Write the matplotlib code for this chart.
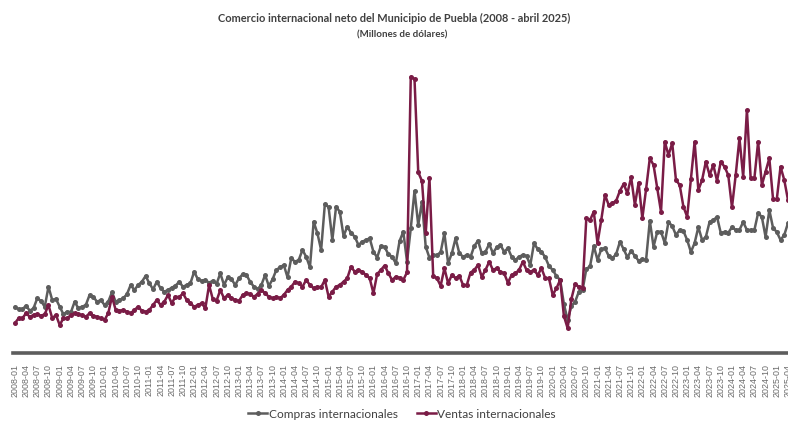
import matplotlib
matplotlib.use("Agg")
import matplotlib.pyplot as plt
from matplotlib.lines import Line2D

# Monthly series, 2008-01 .. 2025-04 (millones de dólares)
start_year = 2008
compras = [
    183, 176, 175, 189, 169, 179, 219, 208, 185, 265, 212, 216,
    185, 155, 165, 163, 205, 179, 185, 192, 232, 225, 205, 212,
    192, 205, 243, 205, 212, 219, 235, 272, 252, 272, 285, 308,
    279, 255, 285, 259, 245, 252, 261, 269, 285, 265, 272, 279,
    325, 295, 289, 292, 281, 289, 276, 319, 272, 303, 295, 272,
    299, 315, 312, 285, 265, 256, 272, 312, 268, 295, 332, 343,
    352, 303, 379, 365, 372, 412, 385, 343, 525, 479, 412, 596,
    583, 452, 585, 565, 468, 505, 481, 465, 432, 445, 452, 459,
    405, 382, 428, 424, 395, 385, 359, 448, 485, 365, 499, 648,
    512, 605, 425, 381, 392, 392, 403, 479, 359, 399, 459, 399,
    385, 392, 384, 428, 449, 399, 405, 436, 399, 423, 432, 405,
    419, 385, 372, 385, 392, 388, 352, 439, 415, 405, 383, 348,
    332, 308, 292, 196, 132, 188, 205, 245, 252, 336, 347, 428,
    372, 415, 419, 388, 379, 396, 445, 415, 383, 409, 388, 369,
    375, 372, 529, 425, 485, 485, 440, 524, 508, 472, 492, 488,
    452, 404, 440, 504, 452, 464, 524, 532, 544, 480, 484, 480,
    504, 492, 492, 524, 492, 492, 492, 560, 544, 464, 572, 500,
    484, 452, 472, 520,
]
ventas = [
    119, 139, 139, 159, 145, 152, 155, 149, 155, 192, 139, 152,
    112, 139, 139, 152, 159, 155, 152, 145, 159, 149, 145, 139,
    132, 159, 225, 172, 168, 172, 165, 159, 172, 185, 169, 165,
    172, 192, 212, 192, 205, 232, 199, 225, 223, 239, 212, 199,
    185, 192, 199, 179, 272, 215, 209, 252, 219, 232, 219, 212,
    208, 232, 239, 236, 225, 236, 252, 239, 225, 219, 225, 219,
    232, 252, 265, 285, 279, 265, 292, 272, 259, 265, 263, 292,
    225, 245, 265, 272, 285, 299, 345, 325, 332, 325, 312, 299,
    239, 316, 332, 350, 319, 292, 305, 301, 292, 323, 1105, 1096,
    723, 688, 479, 701, 309, 299, 269, 339, 279, 312, 299, 309,
    272, 272, 322, 332, 352, 305, 332, 365, 332, 339, 325, 319,
    281, 312, 319, 332, 365, 332, 325, 332, 312, 339, 299, 299,
    232, 259, 292, 148, 99, 216, 276, 265, 262, 539, 532, 565,
    439, 532, 632, 592, 599, 609, 649, 676, 639, 703, 592, 681,
    539, 655, 779, 752, 659, 565, 845, 792, 839, 692, 672, 585,
    545, 695, 845, 652, 692, 765, 712, 752, 689, 765, 745, 712,
    583, 712, 859, 705, 972, 699, 699, 845, 672, 725, 779, 615,
    615, 745, 692, 612,
]
months = list(range(len(compras)))
tick_pos = list(range(0, len(compras), 3))
tick_labels = [f"{start_year + m // 12}-{m % 12 + 1:02d}" for m in tick_pos]

title = "Comercio internacional neto del Municipio de Puebla (2008 - abril 2025)"
subtitle = "(Millones de dólares)"
name_compras = "Compras internacionales"
name_ventas = "Ventas internacionales"

c_gray = "#5d5d5d"
c_red = "#7a1c46"

W, H = 788, 422
fig = plt.figure(figsize=(W / 100, H / 100), dpi=100)
ax = fig.add_axes([13 / W, 1 - 353 / H, (W - 13) / W, (353 - 60) / H])

ax.plot(months, compras, color=c_gray, lw=1.8, marker="o", ms=3.6,
        markeredgewidth=0, clip_on=True, zorder=2)
ax.plot(months, ventas, color=c_red, lw=1.8, marker="o", ms=3.6,
        markeredgewidth=0, clip_on=True, zorder=3)

ax.set_xlim(-0.5, 207)
ax.set_ylim(0, 1172)
for s in ["top", "right", "left"]:
    ax.spines[s].set_visible(False)
ax.spines["bottom"].set_color(c_gray)
ax.spines["bottom"].set_linewidth(2.6)
ax.set_yticks([])
ax.set_xticks(tick_pos)
ax.set_xticklabels(tick_labels, rotation=90, fontsize=6.4, color="#6a6a6a",
                   family="Liberation Sans")
ax.tick_params(axis="x", length=0, pad=8)

fig.text(0.5, 1 - 18 / H, title, ha="center", va="center", fontsize=7.9,
         fontweight="bold", color="#404040", family="Lato")
fig.text(0.51, 1 - 35 / H, subtitle, ha="center", va="center", fontsize=7.0,
         fontweight="bold", color="#404040", family="Lato")

handles = [
    Line2D([], [], color=c_gray, lw=1.8, marker="o", ms=3.6, markeredgewidth=0),
    Line2D([], [], color=c_red, lw=1.8, marker="o", ms=3.6, markeredgewidth=0),
]
fig.legend(handles, [name_compras, name_ventas], loc="center",
           bbox_to_anchor=(0.51, 1 - 414 / H), ncol=2, frameon=False,
           prop={"family": "Lato", "size": 8.6}, handlelength=1.6,
           handletextpad=0.1, columnspacing=1.6, labelcolor="#404040")

fig.savefig("out.png", dpi=100)
